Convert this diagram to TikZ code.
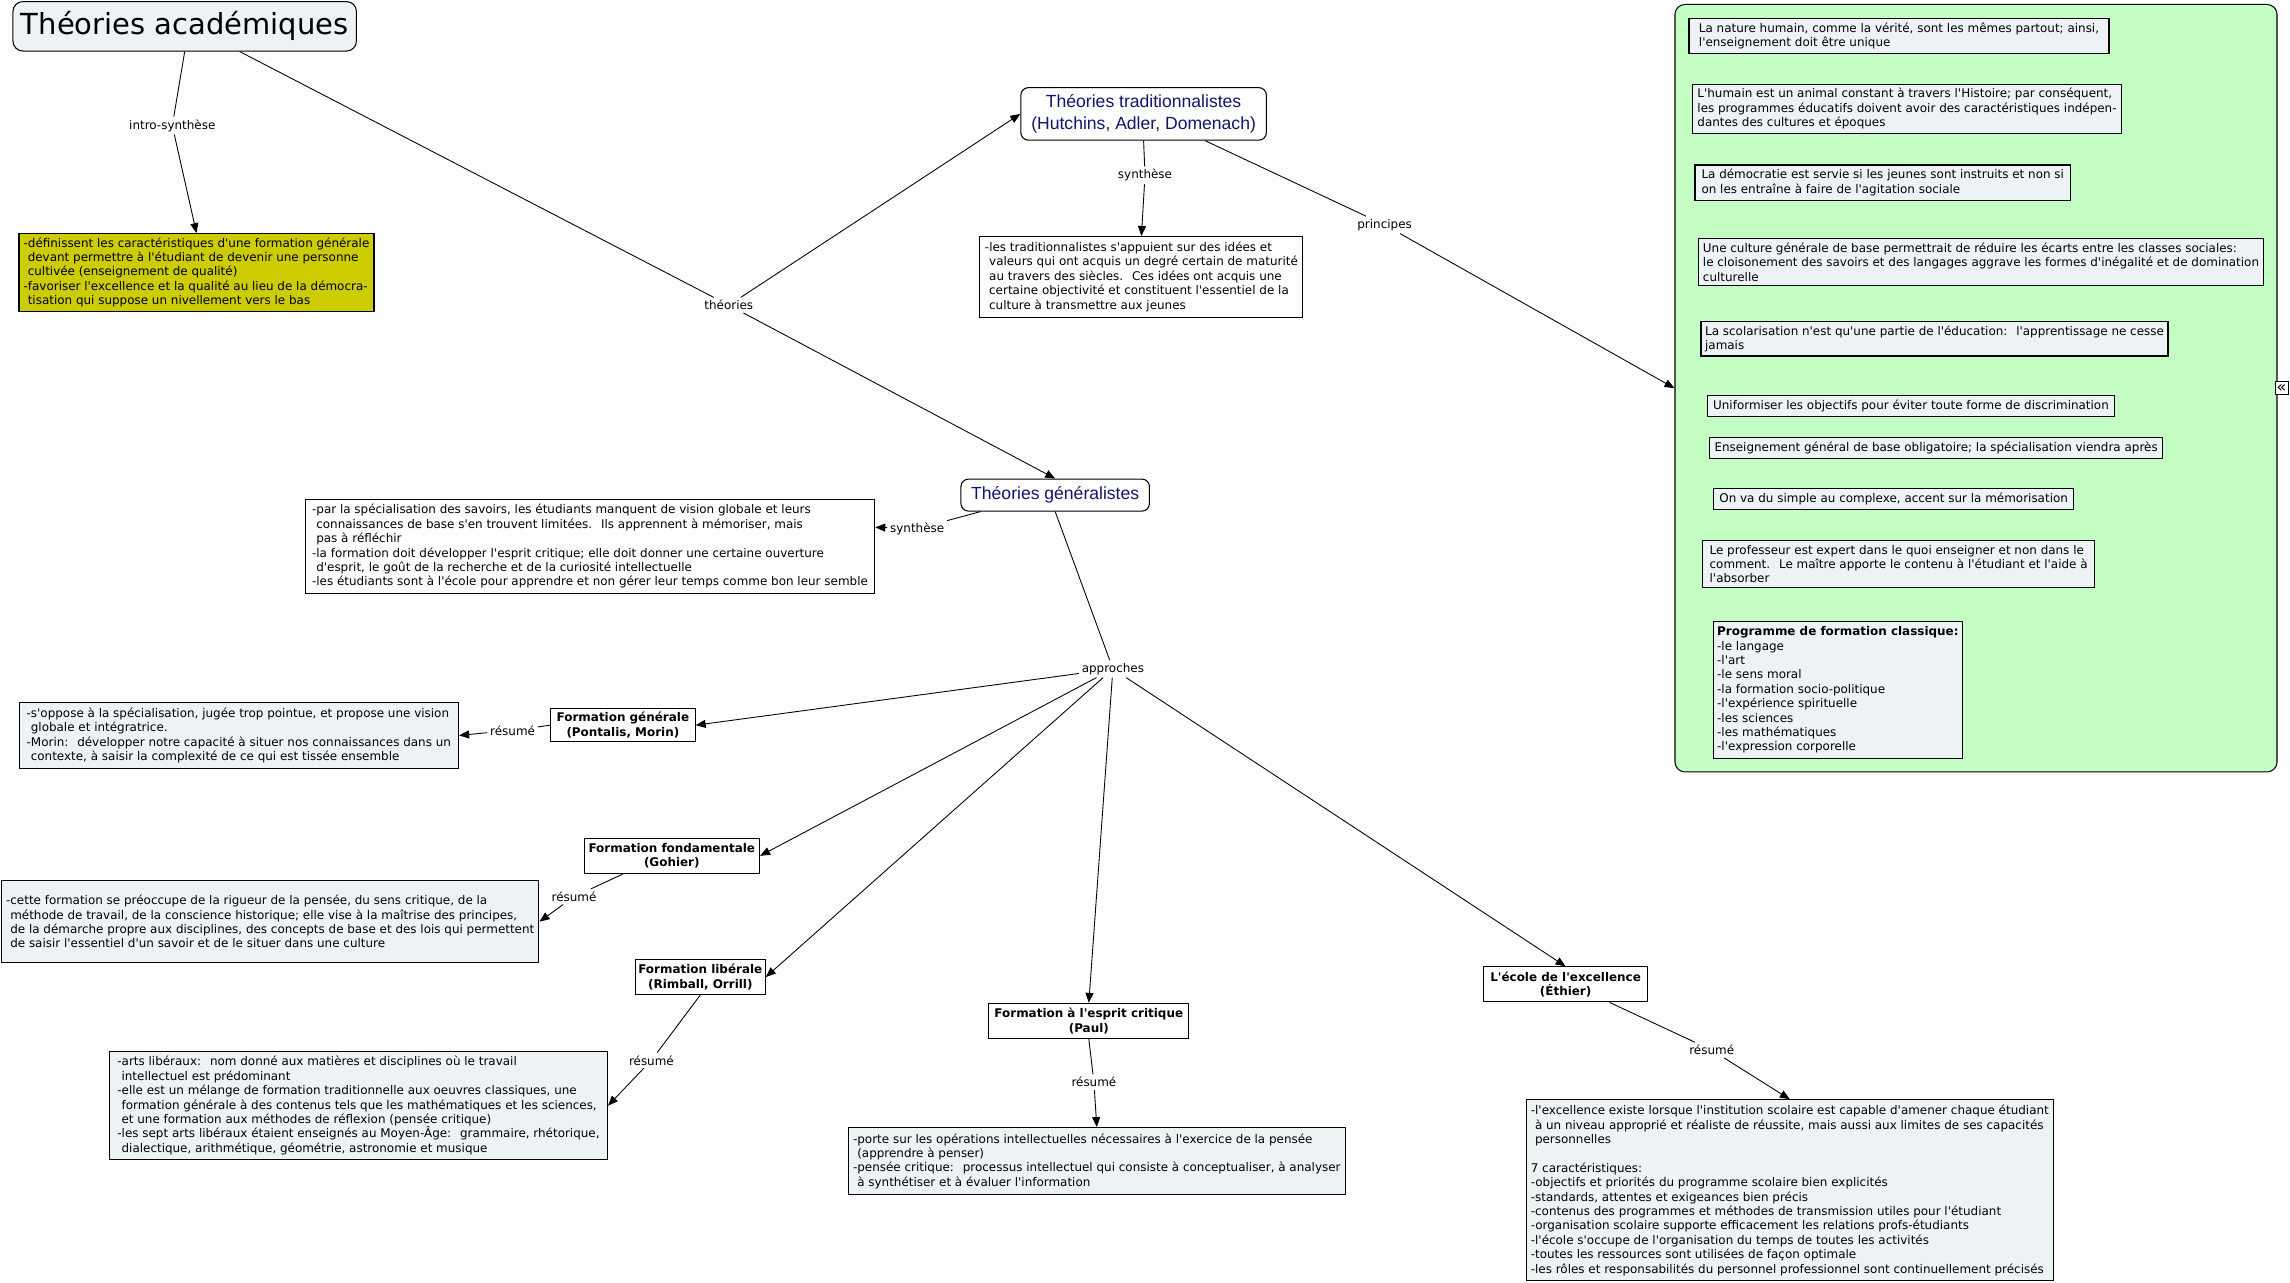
\documentclass[tikz,border=0pt]{standalone}
\usepackage{fontspec}
\newfontfamily\verdana{DejaVu Sans}
\newfontfamily\arialf{Liberation Sans}
\usepackage{tikz}
\usetikzlibrary{arrows.meta,positioning}
\definecolor{bleupale}{RGB}{237,243,245}
\definecolor{jaune}{RGB}{204,204,0}
\definecolor{vertpale}{RGB}{196,254,196}
\definecolor{marine}{RGB}{20,20,110}
\newcommand{\retrait}{\hspace*{0.35em}}
\tikzset{>={Triangle[length=0.2cm,width=0.16cm]}}
\tikzset{
  titrebox/.style={draw, rounded corners=0.2cm, fill=bleupale, line width=0.6pt,
    font=\verdana\fontsize{16.5}{19}\selectfont},
  concept/.style={draw, rounded corners=0.15cm, fill=white, line width=0.6pt,
    align=center, text=marine, font=\arialf\fontsize{10}{12.4}\selectfont},
  note/.style={draw, fill=bleupale, line width=0.6pt, align=left, inner sep=0.06cm,
    font=\verdana\fontsize{6.8}{8.2}\selectfont},
  auteur/.style={draw, fill=white, line width=0.6pt, align=center, inner sep=0.06cm,
    font=\verdana\bfseries\fontsize{6.8}{8.2}\selectfont},
  lien/.style={inner sep=0.05cm, font=\verdana\fontsize{6.8}{8.2}\selectfont},
  panneau/.style={draw, rounded corners=0.2cm, fill=vertpale, line width=0.6pt,
    minimum width=12.04cm, minimum height=15.35cm}
}

\begin{document}
\begin{tikzpicture}[line width=0.5pt]
  \useasboundingbox (0,0) rectangle (45.8,-25.66);

  % concept principal
  \node[titrebox, minimum width=6.87cm, minimum height=0.99cm] (titre) at (3.694,-0.526) {Théories académiques};
  \node[lien] (intro) at (3.446,-2.512) {intro-synthèse};
  \node[note, fill=jaune, minimum width=7.1cm, minimum height=1.55cm] (jaune) at (3.93,-5.448)
    {-définissent les caractéristiques d'une formation générale\\
     \retrait devant permettre à l'étudiant de devenir une personne\\
     \retrait cultivée (enseignement de qualité)\\
     -favoriser l'excellence et la qualité au lieu de la démocra-\\
     \retrait tisation qui suppose un nivellement vers le bas};
  \node[lien] (theories) at (14.576,-6.104) {théories};

  % theories traditionnalistes
  \node[concept, minimum width=4.91cm, minimum height=1.05cm] (trad) at (22.872,-2.278)
    {Théories traditionnalistes\\(Hutchins, Adler, Domenach)};
  \node[lien] (synthtrad) at (22.9,-3.506) {synthèse};
  \node[note, fill=white, minimum width=6.46cm, minimum height=1.61cm] (texttrad) at (22.828,-5.536)
    {-les traditionnalistes s'appuient sur des idées et\\
     \retrait valeurs qui ont acquis un degré certain de maturité\\
     \retrait au travers des siècles.~ Ces idées ont acquis une\\
     \retrait certaine objectivité et constituent l'essentiel de la\\
     \retrait culture à transmettre aux jeunes};
  \node[lien] (principes) at (27.692,-4.498) {principes};

  % principes
  \node[panneau] (panneau) at (39.52,-7.764) {};
  \node[draw, fill=white, inner sep=0pt, minimum size=0.26cm, line width=0.5pt,
    font=\verdana\fontsize{9}{9}\selectfont] (replier) at ([xshift=0.08cm]panneau.east) {«};
  \node[note, minimum width=8.4cm, minimum height=0.70cm] (nature) at (37.98,-0.716)
    {La nature humain, comme la vérité, sont les mêmes partout; ainsi,\\
     l'enseignement doit être unique};
  \node[note, minimum width=8.58cm, minimum height=0.98cm] (humain) at (38.14,-2.176)
    {L'humain est un animal constant à travers l'Histoire; par conséquent,\\
     les programmes éducatifs doivent avoir des caractéristiques indépen-\\
     dantes des cultures et époques};
  \node[note, minimum width=7.51cm, minimum height=0.706cm] (democratie) at (37.655,-3.653)
    {La démocratie est servie si les jeunes sont instruits et non si\\
     on les entraîne à faire de l'agitation sociale};
  \node[note, minimum width=11.3cm, minimum height=0.94cm] (culture) at (39.62,-5.244)
    {Une culture générale de base permettrait de réduire les écarts entre les classes sociales:\\
     le cloisonement des savoirs et des langages aggrave les formes d'inégalité et de domination\\
     culturelle};
  \node[note, minimum width=9.34cm, minimum height=0.686cm] (scolarisation) at (38.69,-6.777)
    {La scolarisation n'est qu'une partie de l'éducation:~ l'apprentissage ne cesse\\
     jamais};
  \node[note, minimum width=8.14cm, minimum height=0.42cm] (uniformiser) at (38.22,-8.124)
    {Uniformiser les objectifs pour éviter toute forme de discrimination};
  \node[note, minimum width=9.06cm, minimum height=0.42cm] (enseignement) at (38.722,-8.956)
    {Enseignement général de base obligatoire; la spécialisation viendra après};
  \node[note, minimum width=7.19cm, minimum height=0.42cm] (simple) at (37.873,-9.976)
    {On va du simple au complexe, accent sur la mémorisation};
  \node[note, minimum width=7.83cm, minimum height=0.95cm] (professeur) at (37.973,-11.28)
    {Le professeur est expert dans le quoi enseigner et non dans le\\
     comment.~ Le maître apporte le contenu à l'étudiant et l'aide à\\
     l'absorber};
  \node[note, minimum width=4.97cm, minimum height=2.73cm] (programme) at (36.757,-13.8)
    {\textbf{Programme de formation classique:}\\
     -le langage\\ -l'art\\ -le sens moral\\ -la formation socio-politique\\
     -l'expérience spirituelle\\ -les sciences\\ -les mathématiques\\
     -l'expression corporelle};

  % theories generalistes
  \node[concept, minimum width=3.77cm, minimum height=0.64cm] (gen) at (21.104,-9.902) {Théories généralistes};
  \node[lien] (synthgen) at (18.344,-10.574) {synthèse};
  \node[note, fill=white, minimum width=11.39cm, minimum height=1.87cm] (textgen) at (11.8,-10.926)
    {-par la spécialisation des savoirs, les étudiants manquent de vision globale et leurs\\
     \retrait connaissances de base s'en trouvent limitées.~ Ils apprennent à mémoriser, mais\\
     \retrait pas à réfléchir\\
     -la formation doit développer l'esprit critique; elle doit donner une certaine ouverture\\
     \retrait d'esprit, le goût de la recherche et de la curiosité intellectuelle\\
     -les étudiants sont à l'école pour apprendre et non gérer leur temps comme bon leur semble};
  \node[lien] (approches) at (22.258,-13.378) {approches};

  % approches
  \node[auteur, minimum width=2.89cm, minimum height=0.67cm] (fgen) at (12.458,-14.504)
    {Formation générale\\(Pontalis, Morin)};
  \node[lien] (resfgen) at (10.252,-14.606) {résumé};
  \node[note, minimum width=8.79cm, minimum height=1.31cm] (txtfgen) at (4.776,-14.708)
    {-s'oppose à la spécialisation, jugée trop pointue, et propose une vision\\
     \retrait globale et intégratrice.\\
     -Morin:~ développer notre capacité à situer nos connaissances dans un\\
     \retrait contexte, à saisir la complexité de ce qui est tissée ensemble};

  \node[auteur, minimum width=3.51cm, minimum height=0.70cm] (ffond) at (13.436,-17.116)
    {Formation fondamentale\\(Gohier)};
  \node[lien] (resffond) at (11.48,-17.934) {résumé};
  \node[note, minimum width=10.75cm, minimum height=1.64cm] (txtffond) at (5.404,-18.432)
    {-cette formation se préoccupe de la rigueur de la pensée, du sens critique, de la\\
     \retrait méthode de travail, de la conscience historique; elle vise à la maîtrise des principes,\\
     \retrait de la démarche propre aux disciplines, des concepts de base et des lois qui permettent\\
     \retrait de saisir l'essentiel d'un savoir et de le situer dans une culture};

  \node[auteur, minimum width=2.6cm, minimum height=0.70cm] (flib) at (14.006,-19.54)
    {Formation libérale\\(Rimball, Orrill)};
  \node[lien] (resflib) at (13.028,-21.206) {résumé};
  \node[note, minimum width=9.96cm, minimum height=2.16cm] (txtflib) at (7.17,-22.112)
    {-arts libéraux:~ nom donné aux matières et disciplines où le travail\\
     \retrait intellectuel est prédominant\\
     -elle est un mélange de formation traditionnelle aux oeuvres classiques, une\\
     \retrait formation générale à des contenus tels que les mathématiques et les sciences,\\
     \retrait et une formation aux méthodes de réflexion (pensée critique)\\
     -les sept arts libéraux étaient enseignés au Moyen-Âge:~ grammaire, rhétorique,\\
     \retrait dialectique, arithmétique, géométrie, astronomie et musique};

  \node[auteur, minimum width=4.0cm, minimum height=0.70cm] (fcrit) at (21.776,-20.418)
    {Formation à l'esprit critique\\(Paul)};
  \node[lien] (resfcrit) at (21.878,-21.644) {résumé};
  \node[note, minimum width=9.93cm, minimum height=1.34cm] (txtfcrit) at (21.936,-23.222)
    {-porte sur les opérations intellectuelles nécessaires à l'exercice de la pensée\\
     \retrait (apprendre à penser)\\
     -pensée critique:~ processus intellectuel qui consiste à conceptualiser, à analyser\\
     \retrait à synthétiser et à évaluer l'information};

  \node[auteur, minimum width=3.27cm, minimum height=0.70cm] (fexc) at (31.312,-19.688)
    {L'école de l'excellence\\(Éthier)};
  \node[lien] (resfexc) at (34.234,-21.002) {résumé};
  \node[note, minimum width=10.54cm, minimum height=3.62cm] (txtfexc) at (35.796,-23.806)
    {-l'excellence existe lorsque l'institution scolaire est capable d'amener chaque étudiant\\
     \retrait à un niveau approprié et réaliste de réussite, mais aussi aux limites de ses capacités\\
     \retrait personnelles\\[8.2pt]
     7 caractéristiques:\\
     -objectifs et priorités du programme scolaire bien explicités\\
     -standards, attentes et exigeances bien précis\\
     -contenus des programmes et méthodes de transmission utiles pour l'étudiant\\
     -organisation scolaire supporte efficacement les relations profs-étudiants\\
     -l'école s'occupe de l'organisation du temps de toutes les activités\\
     -toutes les ressources sont utilisées de façon optimale\\
     -les rôles et responsabilités du personnel professionnel sont continuellement précisés};

  % liens
  \draw (titre.south) -- (intro);
  \draw[->] (intro) -- (jaune.north);
  \draw ([xshift=1.1cm]titre.south) -- (theories);
  \draw[->] (theories) -- (trad.west);
  \draw[->] (theories) -- (gen.north);
  \draw (trad.south) -- (synthtrad);
  \draw[->] (synthtrad) -- (texttrad.north);
  \draw ([xshift=1.23cm]trad.south) -- (principes);
  \draw[->] (principes) -- (panneau.west);
  \draw ([xshift=0.4cm]gen.south west) -- (synthgen);
  \draw[->] (synthgen) -- ([yshift=0.38cm]textgen.east);
  \draw (gen.south) -- (approches);
  \draw[->] (approches) -- (fgen.east);
  \draw[->] (approches) -- (ffond.east);
  \draw[->] (approches) -- (flib.east);
  \draw[->] (approches) -- (fcrit.north);
  \draw[->] (approches) -- (fexc.north);
  \draw (fgen.west) -- (resfgen);
  \draw[->] (resfgen) -- (txtfgen.east);
  \draw ([xshift=-0.97cm]ffond.south) -- (resffond);
  \draw[->] (resffond) -- (txtffond.east);
  \draw (flib.south) -- (resflib);
  \draw[->] (resflib) -- (txtflib.east);
  \draw (fcrit.south) -- (resfcrit);
  \draw[->] (resfcrit) -- (txtfcrit.north);
  \draw ([xshift=0.88cm]fexc.south) -- (resfexc);
  \draw[->] (resfexc) -- (txtfexc.north);
\end{tikzpicture}
\end{document}
